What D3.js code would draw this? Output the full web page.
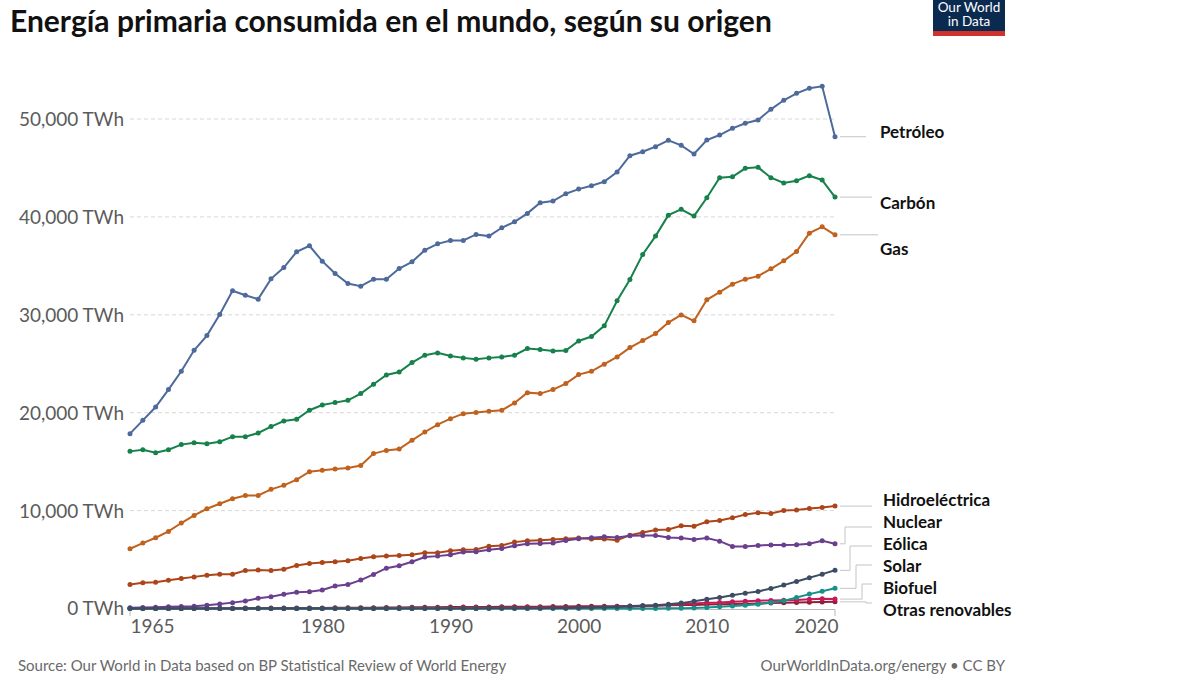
<!DOCTYPE html>
<html><head><meta charset="utf-8">
<script src="https://cdn.jsdelivr.net/npm/d3@7"></script>
<style>
html,body{margin:0;padding:0;background:#fff;}
svg{display:block;}
</style></head>
<body>
<svg id="chart" width="1200" height="675"></svg>
<script>
const years = d3.range(1965, 2021);
const seriesNames = ["Petróleo","Carbón","Gas","Hidroeléctrica","Nuclear","Eólica","Solar","Biofuel","Otras renovables"];
const petroleo = [17860,19220,20580,22360,24230,26380,27880,30030,32450,32000,31600,33670,34830,36430,37050,35480,34220,33200,32920,33640,33640,34730,35410,36600,37250,37590,37590,38210,38040,38890,39500,40360,41450,41620,42370,42840,43190,43600,44580,46250,46660,47170,47820,47310,46420,47850,48360,49050,49560,49900,50990,51910,52620,53140,53340,48190];
const carbon = [16050,16220,15920,16220,16740,16940,16840,17040,17550,17550,17930,18580,19150,19320,20250,20790,21030,21270,21950,22900,23850,24160,25120,25870,26110,25800,25600,25460,25600,25700,25870,26550,26450,26310,26350,27330,27780,28870,31430,33610,36170,38040,40180,40770,40080,41960,44000,44100,44960,45060,44000,43460,43700,44210,43760,42020];
const gas = [6100,6680,7230,7870,8730,9510,10190,10700,11210,11550,11550,12170,12580,13160,13970,14110,14250,14350,14600,15820,16150,16290,17180,18030,18780,19390,19900,20010,20140,20250,21000,22050,21950,22360,22970,23890,24230,24950,25700,26650,27370,28080,29210,29990,29380,31530,32310,33130,33640,33950,34700,35510,36470,38340,38990,38170];
const hidro = [2450,2620,2690,2890,3060,3230,3400,3510,3510,3880,3920,3880,4020,4390,4600,4700,4770,4870,5110,5280,5350,5420,5480,5690,5690,5890,5990,6030,6370,6440,6780,6910,6980,7050,7120,7190,7090,7090,6980,7490,7770,8010,8070,8450,8410,8860,8990,9260,9610,9780,9710,10020,10050,10220,10320,10460];
const nuclear = [70,100,130,170,200,240,330,450,600,770,1050,1200,1450,1650,1720,1900,2300,2450,2900,3480,4120,4360,4770,5250,5350,5490,5760,5790,6000,6130,6410,6610,6650,6680,6950,7120,7230,7330,7260,7430,7460,7460,7260,7190,7050,7190,6880,6340,6340,6440,6480,6480,6510,6610,6920,6610];
const eolica = [0,0,0,0,0,0,0,0,0,0,0,0,0,0,0,0,0,0,0,1,2,3,4,5,6,8,10,12,15,18,22,30,36,45,60,80,100,140,170,220,270,340,440,550,750,950,1120,1360,1570,1740,2040,2390,2760,3140,3510,3900];
const solar = [0,0,0,0,0,0,0,0,0,0,0,0,0,0,0,0,0,0,0,0,0,0,0,0,0,1,1,1,1,1,2,2,2,3,3,3,4,5,6,7,9,12,18,30,50,90,180,260,340,440,610,780,1120,1470,1770,2060];
const biofuel = [0,0,0,0,0,0,0,0,0,0,0,0,0,0,0,10,15,20,25,30,35,40,45,50,55,60,65,70,75,80,85,90,95,95,100,100,110,130,160,190,230,290,370,470,520,600,620,680,740,800,820,840,870,940,1000,960];
const otras = [20,22,24,26,28,30,32,34,36,40,42,44,46,50,55,60,65,70,75,85,95,105,115,125,135,150,155,160,165,170,175,180,190,200,210,220,225,230,240,255,280,300,320,345,370,400,430,460,490,520,560,590,610,630,660,680];
const yTicks = [0,10000,20000,30000,40000,50000];
const xTicks = [1965,1980,1990,2000,2010,2020];
const colors = ["#4e6a9a","#16814b","#c0621e","#ad451a","#6a3f8e","#3c4d63","#169089","#c8185a","#8b2335"];

const data = [petroleo,carbon,gas,hidro,nuclear,eolica,solar,biofuel,otras];
const svg = d3.select("#chart");
const x = d3.scaleLinear().domain([1965,2020]).range([130,835]);
const y = d3.scaleLinear().domain([0,50000]).range([608.5,119]);
const font = "Lato, 'Open Sans', sans-serif";

// title
svg.append("text").attr("x",10).attr("y",32).attr("font-family",font).attr("font-weight",700)
  .attr("font-size",30).attr("fill","#111").text("Energía primaria consumida en el mundo, según su origen");

// logo
const logo = svg.append("g");
logo.append("rect").attr("x",933).attr("y",0).attr("width",72).attr("height",31).attr("fill","#0b2a50");
logo.append("rect").attr("x",933).attr("y",31).attr("width",72).attr("height",5).attr("fill","#d0312d");
logo.append("text").attr("x",969).attr("y",12).attr("text-anchor","middle").attr("font-family",font).attr("font-size",13.5).attr("fill","#fff").text("Our World");
logo.append("text").attr("x",969).attr("y",26).attr("text-anchor","middle").attr("font-family",font).attr("font-size",13.5).attr("fill","#fff").text("in Data");

// grid
svg.append("g").selectAll("line").data(yTicks.filter(d=>d>0)).join("line")
  .attr("x1",130).attr("x2",835).attr("y1",d=>y(d)).attr("y2",d=>y(d))
  .attr("stroke","#d8d8d8").attr("stroke-dasharray","4,3").attr("stroke-width",1);

// y axis labels
const yAxis = d3.axisLeft(y).tickValues(yTicks).tickSize(0).tickPadding(0)
  .tickFormat(d=>d3.format(",")(d)+" TWh");
const yg = svg.append("g").attr("transform","translate(124,0)").call(yAxis);
yg.select(".domain").remove();
yg.selectAll("text").attr("font-family",font).attr("font-size",19).attr("fill","#5b5b5b").attr("dy","0.34em");

// x axis
svg.append("line").attr("x1",130).attr("x2",835).attr("y1",609.5).attr("y2",609.5).attr("stroke","#b8b8b8").attr("stroke-width",1);
svg.append("g").selectAll("line").data([1965,2020]).join("line")
  .attr("x1",d=>x(d)).attr("x2",d=>x(d)).attr("y1",609.5).attr("y2",616).attr("stroke","#b8b8b8");
const xAxis = d3.axisBottom(x).tickValues(xTicks).tickSize(0).tickPadding(0).tickFormat(d3.format("d"));
const xg = svg.append("g").attr("transform","translate(0,619)").call(xAxis);
xg.select(".domain").remove();
xg.selectAll("text").attr("font-family",font).attr("font-size",19).attr("fill","#5b5b5b").attr("dy","0.71em")
  .attr("text-anchor",d=>d===1965?"start":(d===2020?"end":"middle"))
  .attr("dx",d=>d===2020?"3":"0");

// lines
const line = d3.line().x((d,i)=>x(years[i])).y(d=>y(d));
const order = [8,7,6,3,4,5,2,1,0];
order.forEach(si=>{
  const g = svg.append("g");
  g.append("path").datum(data[si]).attr("d",line).attr("fill","none").attr("stroke",colors[si]).attr("stroke-width",2);
  g.selectAll("circle").data(data[si]).join("circle")
    .attr("cx",(d,i)=>x(years[i])).attr("cy",d=>y(d)).attr("r",2.5).attr("fill",colors[si]);
});

// connectors & labels
const labelY = [132,203,249,500,522,544,566,588,610];
const connY  = [null,null,null,null,527,546,565,584,603];
const elbowX = [0,0,0,0,845,850,856,862,866];
const endX = [866,872,878,872,872,872,872,872,872];
data.forEach((arr,si)=>{
  const px = x(2020)+5, py = y(arr[arr.length-1]);
  let p;
  if(connY[si]===null){ p = `M${px},${py}H${endX[si]}`; }
  else { p = `M${px},${py}H${elbowX[si]}V${connY[si]}H${endX[si]}`; }
  svg.append("path").attr("d",p).attr("fill","none").attr("stroke","#c4c4c4").attr("stroke-width",1);
  svg.append("text").attr("x",si<3?880:883).attr("y",labelY[si]).attr("dy","0.35em")
    .attr("font-family",font).attr("font-weight",700).attr("font-size",17).attr("fill","#111")
    .text(seriesNames[si]);
});

// footer
svg.append("text").attr("x",18).attr("y",671).attr("font-family",font).attr("font-size",15).attr("fill","#6a6a6a")
  .text("Source: Our World in Data based on BP Statistical Review of World Energy");
svg.append("text").attr("x",1005).attr("y",671).attr("text-anchor","end").attr("font-family",font).attr("font-size",15).attr("fill","#6a6a6a")
  .text("OurWorldInData.org/energy • CC BY");
</script>
</body></html>
